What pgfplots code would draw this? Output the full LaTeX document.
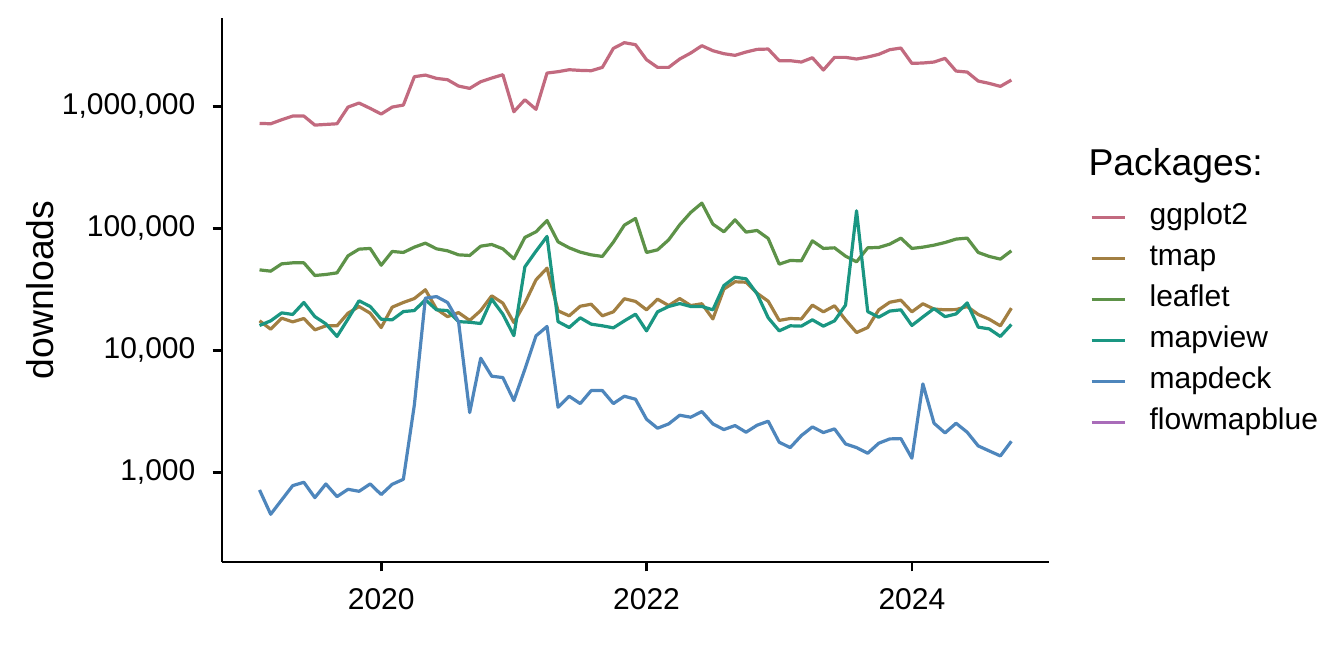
\documentclass[border=0pt]{standalone}
\usepackage{fontspec}
\setmainfont{Liberation Sans}
\usepackage{pgfplots}
\usepackage{pgfplotstable}
\pgfplotsset{compat=1.18}
\definecolor{cggplot}{HTML}{C26A7F}
\definecolor{ctmap}{HTML}{A27F42}
\definecolor{cleaflet}{HTML}{5D9248}
\definecolor{cmapview}{HTML}{1A9682}
\definecolor{cmapdeck}{HTML}{4E86BC}
\definecolor{cflow}{HTML}{A96CB9}

\pgfplotstableread{
x ggplot2 tmap leaflet mapview mapdeck
2019.083 726000 17460 45700 16000 717
2019.167 721000 14920 44600 17460 453
2019.250 778000 18360 51200 20300 594
2019.333 834000 17130 52200 19700 778
2019.417 834000 18250 52200 24700 829
2019.500 703000 14730 41100 18900 620
2019.583 712000 15890 41900 16500 803
2019.667 721000 15890 43200 13000 632
2019.750 988000 20180 59600 18100 726
2019.833 1066000 22880 67600 25500 699
2019.917 964000 20180 68500 22900 803
2020.000 866000 15390 49900 18000 657
2020.083 988000 22600 64700 17800 798
2020.167 1026000 24700 63500 20800 877
2020.250 1753000 26600 70200 21200 3572
2020.333 1808000 31400 75700 26000 26800
2020.417 1698000 21800 68000 21500 27600
2020.500 1656000 18900 65500 21200 24700
2020.583 1469000 20400 60700 17200 17200
2020.667 1406000 17600 60000 17000 3090
2020.750 1595000 21200 71500 16600 8625
2020.833 1709000 28000 73800 26300 6140
2020.917 1820000 24400 68000 19800 5985
2021.000 905000 16900 56300 13200 3877
2021.083 1135000 24400 84300 48400 7005
2021.167 946000 37900 93800 65100 13150
2021.250 1878000 47200 116100 85900 15700
2021.333 1927000 21100 77600 17200 3418
2021.417 2000000 19200 69300 15390 4207
2021.500 1975000 23000 63900 18500 3662
2021.583 1963000 23900 60700 16400 4683
2021.667 2090000 19200 58900 15900 4683
2021.750 2992000 20700 77200 15300 3662
2021.833 3332000 26500 106400 17460 4207
2021.917 3208000 25200 120600 19800 3976
2022.000 2416000 21500 63500 14450 2725
2022.083 2090000 26300 66700 20700 2299
2022.167 2090000 23300 80600 22900 2495
2022.250 2447000 26600 107000 24200 2939
2022.333 2741000 23300 135100 22900 2830
2022.417 3147000 24100 161200 22900 3150
2022.500 2864000 18100 108400 21500 2495
2022.583 2706000 31800 93800 34000 2242
2022.667 2623000 36500 117600 39800 2418
2022.750 2793000 36200 93200 38600 2132
2022.833 2936000 29400 96200 29100 2433
2022.917 2955000 25300 82700 18500 2624
2023.000 2371000 17600 50900 14450 1765
2023.083 2371000 18250 54600 15900 1595
2023.167 2312000 18100 54200 15800 2001
2023.250 2508000 23500 79100 17800 2357
2023.333 1988000 20700 68500 15800 2118
2023.417 2525000 23200 69300 17460 2270
2023.500 2525000 17800 59200 23500 1710
2023.583 2447000 14000 53200 139400 1595
2023.667 2541000 15390 69300 20800 1433
2023.750 2673000 21500 69800 18700 1732
2023.833 2918000 24800 74300 21000 1879
2023.917 3011000 25800 83200 21500 1891
2024.000 2254000 20700 68500 16000 1305
2024.083 2270000 24100 70200 18800 5312
2024.167 2312000 21800 72900 22000 2527
2024.250 2477000 21500 76600 18900 2105
2024.333 1950000 21600 81700 19900 2527
2024.417 1914000 22880 83200 24500 2132
2024.500 1615000 19700 63500 15500 1647
2024.583 1545000 18000 58900 15000 1498
2024.667 1460000 15890 56000 13000 1363
2024.750 1645000 22200 65500 16300 1798
}\dl

\begin{document}
\begin{tikzpicture}
\path[use as bounding box] (-83.25pt,-41.25pt) rectangle (420.75pt,210.75pt);
\begin{axis}[
  scale only axis, width=310.1pt, height=204pt,
  xmin=2018.8, xmax=2025.033,
  ymode=log, ymin=184, ymax=5310000,
  axis x line*=bottom, axis y line*=left,
  axis line style={line width=1pt, black, -},
  xtick={2020,2022,2024}, xticklabels={2020,2022,2024},
  ytick={1000,10000,100000,1000000},
  yticklabels={{1,000},{10,000},{100,000},{1,000,000}},
  yminorticks=false, xminorticks=false,
  tick align=outside, major tick length=3.5pt,
  tick style={line width=1pt, black},
  xticklabel style={font=\fontsize{11.25}{13}\selectfont, inner sep=0pt, yshift=-6.3pt, anchor=north},
  yticklabel style={font=\fontsize{11.25}{13}\selectfont, inner sep=0pt, xshift=-6.3pt, anchor=east},
  ylabel={downloads},
  every axis y label/.style={at={(axis description cs:-0.2201,0.5)}, rotate=90, anchor=center, font=\fontsize{14}{16}\selectfont},
  legend style={at={(axis description cs:1.0497,0.6593)}, anchor=north west, draw=none, fill=none,
    inner sep=0pt, outer sep=0pt, font=\fontsize{11.25}{13}\selectfont,
    row sep=4.875pt, column sep=8.75pt,
    nodes={inner sep=0pt, text height=8pt, text depth=2.5pt}},
  legend cell align=left,
  legend image code/.code={\draw[#1, line width=1.2pt] (0pt,0pt) -- (12.4pt,0pt);},
]
\addplot[cggplot, line width=1.2pt, line join=round, no markers] table[x=x, y=ggplot2]{\dl};
\addlegendentry{ggplot2}
\addplot[ctmap, line width=1.2pt, line join=round, no markers] table[x=x, y=tmap]{\dl};
\addlegendentry{tmap}
\addplot[cleaflet, line width=1.2pt, line join=round, no markers] table[x=x, y=leaflet]{\dl};
\addlegendentry{leaflet}
\addplot[cmapview, line width=1.2pt, line join=round, no markers] table[x=x, y=mapview]{\dl};
\addlegendentry{mapview}
\addplot[cmapdeck, line width=1.2pt, line join=round, no markers] table[x=x, y=mapdeck]{\dl};
\addlegendentry{mapdeck}
\addlegendimage{cflow, line width=1.2pt}
\addlegendentry{flowmapblue}
\end{axis}
\node[anchor=base west, inner sep=0pt, font=\fontsize{14}{16}\selectfont] at (324.75pt,145pt) {Packages:};
\end{tikzpicture}
\end{document}
